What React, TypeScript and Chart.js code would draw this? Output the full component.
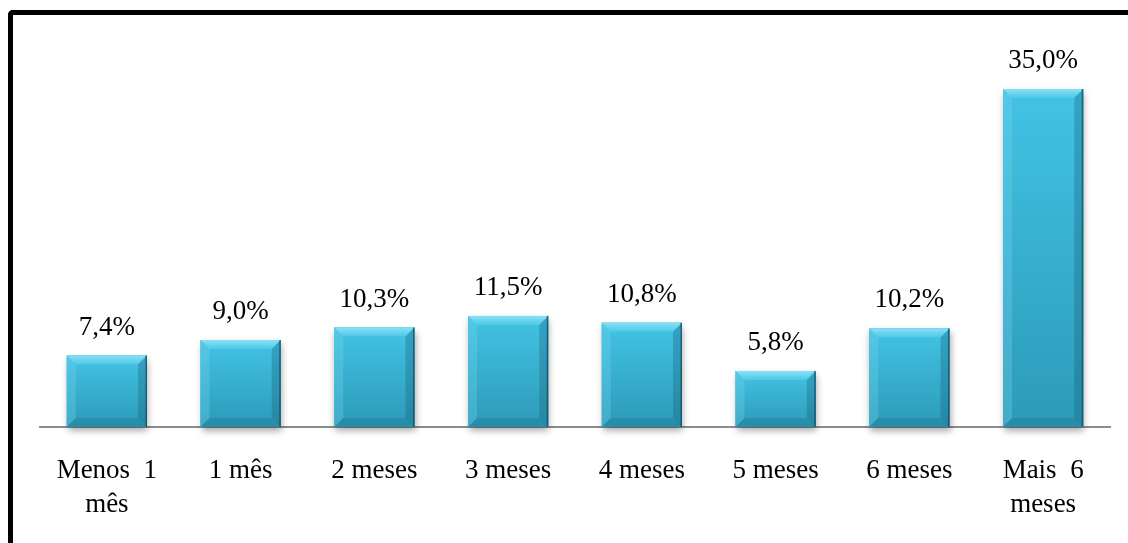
import React, { useEffect, useRef } from "react";
import { Chart, registerables } from "chart.js";

Chart.register(...registerables);

const categories: (string | string[])[] = [
  ["Menos  1", "mês"],
  "1 mês",
  "2 meses",
  "3 meses",
  "4 meses",
  "5 meses",
  "6 meses",
  ["Mais  6", "meses"],
];
const values: number[] = [7.4, 9.0, 10.3, 11.5, 10.8, 5.8, 10.2, 35.0];
const valueLabels: string[] = ["7,4%", "9,0%", "10,3%", "11,5%", "10,8%", "5,8%", "10,2%", "35,0%"];

const FONT = "'Liberation Serif', 'Times New Roman', serif";

const bevelPlugin = {
  id: "bevelBars",
  beforeDatasetDraw(chart: any) {
    const ctx = chart.ctx;
    ctx.save();
    ctx.shadowColor = "rgba(0,0,0,0.35)";
    ctx.shadowBlur = 7;
    ctx.shadowOffsetX = 1;
    ctx.shadowOffsetY = 4;
  },
  afterDatasetDraw(chart: any) {
    chart.ctx.restore();
  },
  afterDatasetsDraw(chart: any) {
    const ctx = chart.ctx;
    const meta = chart.getDatasetMeta(0);
    meta.data.forEach((bar: any, i: number) => {
      const w = bar.width;
      const l = bar.x - w / 2;
      const r = bar.x + w / 2;
      const t = bar.y;
      const b = bar.base;
      const h = b - t;
      const bv = Math.min(9, h / 3);
      ctx.save();
      const g = ctx.createLinearGradient(0, t, 0, b);
      g.addColorStop(0, "#43c3e4");
      g.addColorStop(1, "#2c9ab8");
      ctx.fillStyle = g;
      ctx.fillRect(l, t, w, h);
      const gt = ctx.createLinearGradient(0, t, 0, t + bv);
      gt.addColorStop(0, "#8ae0f6");
      gt.addColorStop(1, "#4cc8e7");
      ctx.fillStyle = gt;
      ctx.beginPath();
      ctx.moveTo(l, t);
      ctx.lineTo(r, t);
      ctx.lineTo(r - bv, t + bv);
      ctx.lineTo(l + bv, t + bv);
      ctx.closePath();
      ctx.fill();
      ctx.fillStyle = "rgba(120,215,240,0.3)";
      ctx.beginPath();
      ctx.moveTo(l, t);
      ctx.lineTo(l + bv, t + bv);
      ctx.lineTo(l + bv, b - bv);
      ctx.lineTo(l, b);
      ctx.closePath();
      ctx.fill();
      ctx.fillStyle = "rgba(20,90,115,0.3)";
      ctx.beginPath();
      ctx.moveTo(r, t);
      ctx.lineTo(r - bv, t + bv);
      ctx.lineTo(r - bv, b - bv);
      ctx.lineTo(r, b);
      ctx.closePath();
      ctx.fill();
      ctx.fillStyle = "rgba(20,90,115,0.22)";
      ctx.beginPath();
      ctx.moveTo(l, b);
      ctx.lineTo(l + bv, b - bv);
      ctx.lineTo(r - bv, b - bv);
      ctx.lineTo(r, b);
      ctx.closePath();
      ctx.fill();
      ctx.fillStyle = "rgba(15,70,90,0.7)";
      ctx.fillRect(r - 1.5, t, 1.5, h);
      ctx.restore();

      ctx.save();
      ctx.fillStyle = "#000";
      ctx.font = "27px " + FONT;
      ctx.textAlign = "center";
      ctx.textBaseline = "alphabetic";
      ctx.fillText(valueLabels[i], bar.x, t - 21);
      ctx.restore();
    });
  },
};

export default function App() {
  const ref = useRef<HTMLCanvasElement | null>(null);
  useEffect(() => {
    if (!ref.current) return;
    const chart = new Chart(ref.current, {
      type: "bar",
      data: {
        labels: categories,
        datasets: [
          {
            data: values,
            backgroundColor: "#38b3d4",
            borderWidth: 0,
            categoryPercentage: 1,
            barPercentage: 0.6,
            clip: false as any,
          },
        ],
      },
      options: {
        responsive: false,
        animation: false,
        layout: { padding: { left: 40, right: 18, top: 89, bottom: 0 } },
        plugins: { legend: { display: false }, tooltip: { enabled: false } },
        scales: {
          x: {
            grid: { display: false, drawTicks: false },
            border: { display: true, color: "#8c8c8c", width: 2 },
            ticks: {
              color: "#000",
              padding: 27,
              maxRotation: 0,
              autoSkip: false,
              font: { family: FONT, size: 27, lineHeight: 1.26 },
            },
          },
          y: {
            display: false,
            min: 0,
            max: 35,
          },
        },
      },
      plugins: [bevelPlugin],
    });
    return () => chart.destroy();
  }, []);

  return (
    <div style={{ position: "fixed", left: 0, top: 0, width: 1128, height: 543, overflow: "hidden", background: "#fff" }}>
      <div
        style={{
          position: "absolute",
          left: 8,
          top: 10,
          width: 1200,
          height: 700,
          borderTop: "5px solid #000",
          borderLeft: "5px solid #000",
          borderTopLeftRadius: 5,
        }}
      />
      <canvas ref={ref} width={1128} height={549} style={{ position: "absolute", left: 0, top: 0 }} />
    </div>
  );
}
